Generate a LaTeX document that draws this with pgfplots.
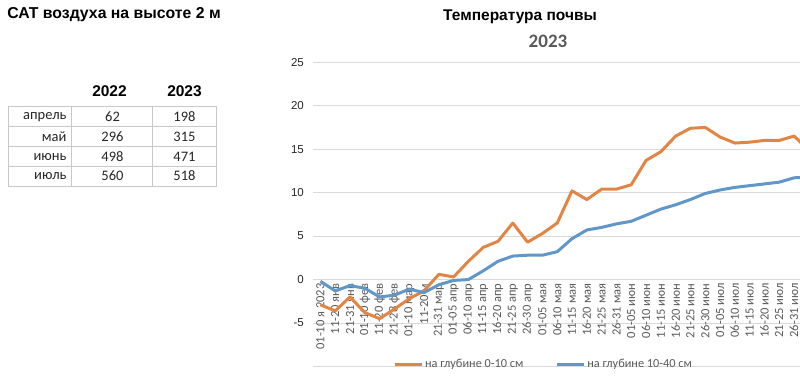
\documentclass[border=0pt]{standalone}
\usepackage{fontspec}
\setmainfont{Liberation Sans}
\newfontfamily\calib{Carlito}
\usepackage{pgfplots}
\usepackage{pgfplotstable}
\pgfplotsset{compat=1.18}
\definecolor{orangeL}{RGB}{226,133,68}
\definecolor{blueL}{RGB}{96,150,200}
\definecolor{gridc}{RGB}{217,217,217}
\definecolor{tabc}{RGB}{200,200,200}
\definecolor{txtg}{RGB}{89,89,89}
\definecolor{txtd}{RGB}{38,38,38}

\pgfplotstableread{
x o b
0 -2.9 -0.2
1 -3.6 -1.3
2 -2.0 -0.7
3 -3.8 -1.0
4 -4.5 -2.0
5 -3.4 -1.8
6 -2.2 -1.1
7 -1.3 -1.5
8 0.6 -0.6
9 0.3 -0.1
10 2.1 0.0
11 3.7 1.0
12 4.4 2.1
13 6.5 2.7
14 4.3 2.8
15 5.3 2.8
16 6.5 3.2
17 10.2 4.7
18 9.2 5.7
19 10.4 6.0
20 10.4 6.4
21 10.9 6.7
22 13.7 7.4
23 14.7 8.1
24 16.5 8.6
25 17.4 9.2
26 17.5 9.9
27 16.4 10.3
28 15.7 10.6
29 15.8 10.8
30 16.0 11.0
31 16.0 11.2
32 16.5 11.7
33 14.9 11.8
}\soil

\begin{document}
\begin{tikzpicture}[x=1pt,y=1pt]
\useasboundingbox (0,0) rectangle (800,382);
% left title
\node[font=\fontsize{15.8}{17}\selectfont\bfseries, text=black] at (114,367) {САТ воздуха на высоте 2 м};
% table headers
\node[font=\fontsize{15.5}{17}\selectfont\bfseries, text=black] at (109.5,291) {2022};
\node[font=\fontsize{15.5}{17}\selectfont\bfseries, text=black] at (184.5,291) {2023};
% table grid
\draw[tabc, line width=0.8pt] (8.3,382-106.7) rectangle (216.7,382-186);
\foreach \yy in {126.7,146.7,166.7} \draw[tabc, line width=0.8pt] (8.3,382-\yy) -- (216.7,382-\yy);
\foreach \xx in {71.7,152.7} \draw[tabc, line width=0.8pt] (\xx,382-106.7) -- (\xx,382-186);
% table text
\begin{scope}[every node/.style={font=\calib\fontsize{14.5}{16}\selectfont, text=txtd}]
\node[anchor=east] at (70,382-116.7) {апрель};
\node at (112.5,382-116.7) {62};
\node at (184.5,382-116.7) {198};
\node[anchor=east] at (70,382-136.7) {май};
\node at (112.5,382-136.7) {296};
\node at (184.5,382-136.7) {315};
\node[anchor=east] at (70,382-156.7) {июнь};
\node at (112.5,382-156.7) {498};
\node at (184.5,382-156.7) {471};
\node[anchor=east] at (70,382-176) {июль};
\node at (112.5,382-176) {560};
\node at (184.5,382-176) {518};
\end{scope}
% right titles
\node[font=\fontsize{15.5}{17}\selectfont\bfseries, text=black] at (520,365) {Температура почвы};
\node[font=\calib\fontsize{19}{21}\selectfont\bfseries, text=txtg] at (548,341) {2023};

\begin{axis}[
  at={(313pt,15.5pt)}, anchor=south west,
  width=488.4pt, height=304.3pt, scale only axis,
  xmin=-0.5, xmax=32.5, ymin=-10, ymax=25,
  axis x line*=middle, axis y line*=left,
  hide obscured x ticks=false, hide obscured y ticks=false,
  axis line style={draw=none},
  tick style={draw=none}, major tick length=0pt,
  ytick={-5,0,5,10,15,20,25},
  extra y ticks={-10}, extra y tick labels={}, extra y tick style={grid=major},
  ymajorgrids, grid style={gridc, line width=0.9pt},
  xtick={0,...,32},
  xticklabels={01-10 я 2023,11-20 янв,21-31 янв,01-10 фев,11-20 фев,21-28 фев,01-10 мар,11-20 м,21-31 мар,01-05 апр,06-10 апр,11-15 апр,16-20 апр,21-25 апр,26-30 апр,01-05 мая,06-10 мая,11-15 мая,16-20 мая,21-25 мая,26-31 мая,01-05 июн,06-10 июн,11-15 июн,16-20 июн,21-25 июн,26-30 июн,01-05 июл,06-10 июл,11-15 июл,16-20 июл,21-25 июл,26-31 июл},
  xticklabel style={rotate=90, anchor=east, inner sep=0pt, outer xsep=4pt, font=\calib\fontsize{12.5}{13}\selectfont, text=txtg},
  yticklabel style={anchor=east, inner sep=0pt, xshift=-9pt, font=\fontsize{11.5}{13}\selectfont, text=txtd},
  /pgf/number format/assume math mode=true,
  legend style={at={(0.472,0.008)}, anchor=center, draw=none, fill=none,
    legend columns=2, font=\calib\fontsize{12.3}{14}\selectfont, text=txtg,
    /tikz/every even column/.append style={column sep=30pt}},
  legend image code/.code={\draw[#1] (0pt,0pt) -- (27pt,0pt);},
  clip=true,
]
\addplot[orangeL, line width=3pt, line join=round, no markers] table[x=x, y=o] {\soil};
\addlegendentry{на глубине 0-10 см}
\addplot[blueL, line width=3pt, line join=round, no markers] table[x=x, y=b] {\soil};
\addlegendentry{на глубине 10-40 см}
\end{axis}
\end{tikzpicture}
\end{document}
